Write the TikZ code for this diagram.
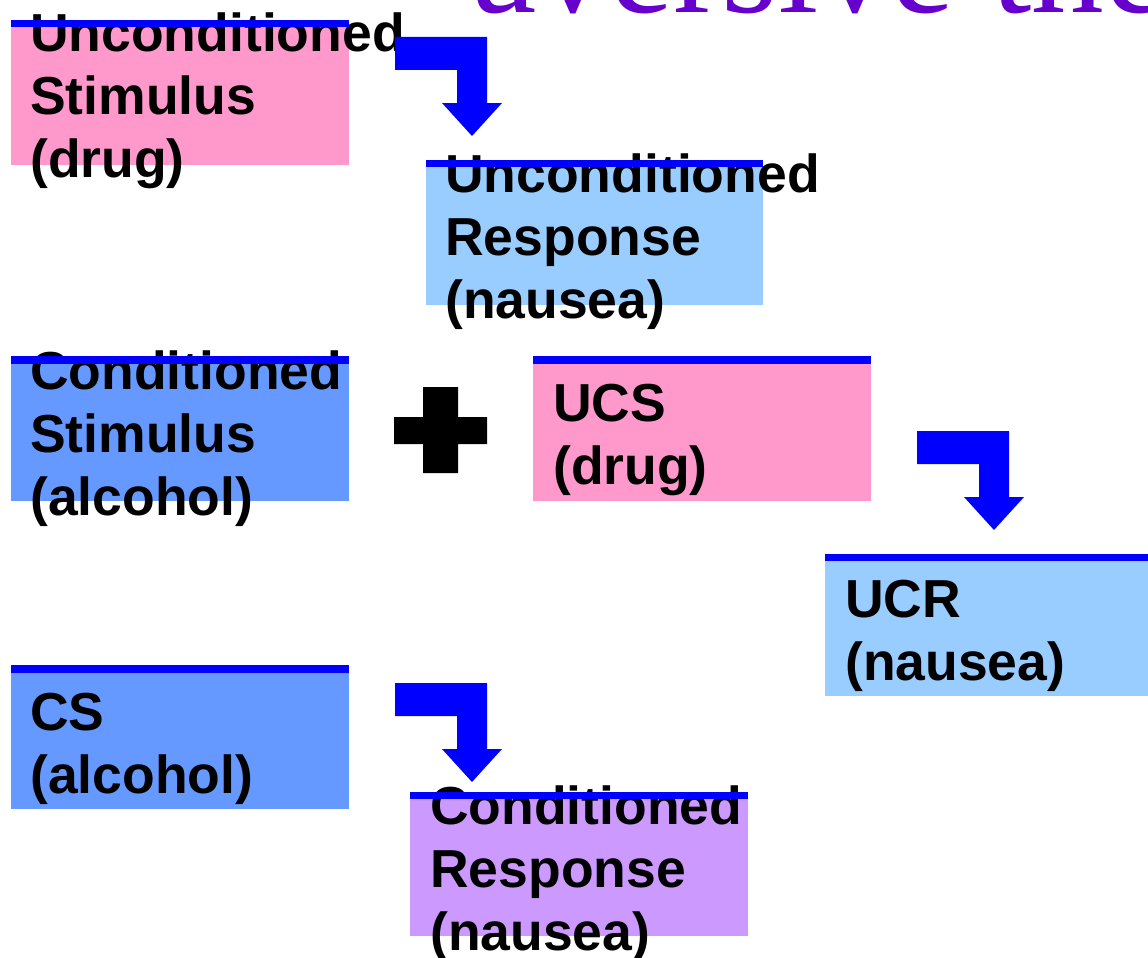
\documentclass[tikz,border=0pt]{standalone}
\usepackage{fontspec}
\setmainfont{Liberation Sans}
\newfontfamily\titlefont{Liberation Serif}
\definecolor{ucspink}{HTML}{FF99CC}
\definecolor{ucrblue}{HTML}{99CCFF}
\definecolor{csblue}{HTML}{6699FF}
\definecolor{crpurple}{HTML}{CC99FF}
\definecolor{lineblue}{HTML}{0000FF}
\definecolor{titlepurple}{HTML}{6600CC}
\tikzset{
  bentarrow/.pic={\fill[lineblue] (0,0) -- (92,0) -- (92,66) -- (107,66) -- (77,99) -- (47,66) -- (62,66) -- (62,33) -- (0,33) -- cycle;}
}
\begin{document}
\begin{tikzpicture}[x=1pt,y=-1pt,
  box/.style={anchor=north west, inner sep=0pt, outer sep=0pt, minimum width=338pt, minimum height=141pt},
  boxtext/.style={anchor=base west, inner sep=0pt, text width=420pt, align=left, font=\bfseries\fontsize{53.5}{63}\selectfont},
  topline/.style={draw=lineblue, line width=7.5pt},
  titletext/.style={anchor=base west, inner sep=0pt, text=titlepurple, font=\titlefont\fontsize{145}{150}\selectfont}]
\useasboundingbox (0,0) rectangle (1148,958);
\begin{scope}
\clip (0,0) rectangle (1148,958);
\node[titletext] (title) at (472,13) {aversive the};

% boxes
\node[box, fill=ucspink] (ucsA) at (11,23.5) {};
\node[box, fill=ucrblue, minimum width=337pt] (ucrA) at (426,163.5) {};
\node[box, fill=csblue] (csA) at (11,360) {};
\node[box, fill=ucspink] (ucsB) at (533,360) {};
\node[box, fill=ucrblue, minimum width=330pt, minimum height=138.5pt] (ucrB) at (825,557.5) {};
\node[box, fill=csblue, minimum height=140pt] (csB) at (11,669) {};
\node[box, fill=crpurple, minimum height=140.5pt] (crA) at (410,795.5) {};

% texts
\node[boxtext] (ucsAt) at (30,52) {Unconditioned\\Stimulus\\(drug)};
\node[boxtext] (ucrAt) at (445,192) {Unconditioned\\Response\\(nausea)};
\node[boxtext] (csAt) at (30,389) {Conditioned\\Stimulus\\(alcohol)};
\node[boxtext] (ucsBt) at (553,421) {UCS\\(drug)};
\node[boxtext] (ucrBt) at (845,617) {UCR\\(nausea)};
\node[boxtext] (csBt) at (30,730) {CS\\(alcohol)};
\node[boxtext] (crAt) at (430,824) {Conditioned\\Response\\(nausea)};

% top lines
\foreach \b in {ucsA,ucrA,csA,ucsB,ucrB,csB,crA}
  \draw[topline] (\b.north west) -- (\b.north east);

% bent arrows
\pic (arrA) at (395,37) {bentarrow};
\pic (arrB) at (917,431) {bentarrow};
\pic (arrC) at (395,683) {bentarrow};

% plus sign
\fill[black] (423,387) -- (458,387) -- (458,417) -- (487,417) -- (487,444) -- (458,444) -- (458,473) -- (423,473) -- (423,444) -- (394,444) -- (394,417) -- (423,417) -- cycle;
\end{scope}
\end{tikzpicture}
\end{document}
